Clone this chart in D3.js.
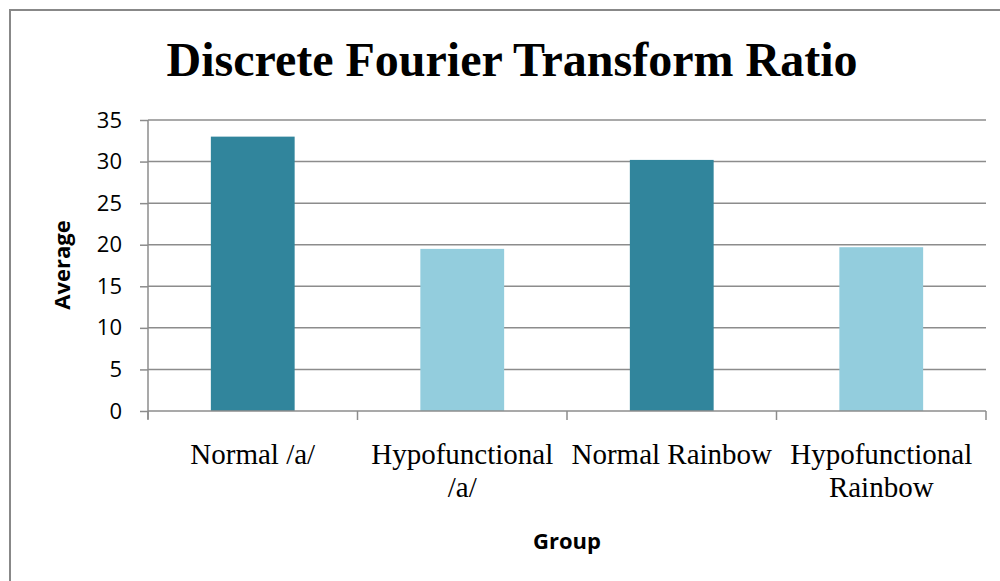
<!DOCTYPE html>
<html lang="en">
<head>
<meta charset="UTF-8">
<title>Discrete Fourier Transform Ratio</title>
<script src="https://cdnjs.cloudflare.com/ajax/libs/d3/7.8.5/d3.min.js"></script>
<style>
  body { margin: 0; background: #fff; }
</style>
</head>
<body>
<div id="chart"></div>
<script>
    var groups = ["Normal /a/", "Hypofunctional /a/", "Normal Rainbow", "Hypofunctional Rainbow"];
    var groupLines = [["Normal /a/"], ["Hypofunctional", "/a/"], ["Normal Rainbow"], ["Hypofunctional", "Rainbow"]];
    var averages = [33.0, 19.5, 30.2, 19.7];
    var barColors = ["#31859c", "#93cddd", "#31859c", "#93cddd"];
    var yTicks = [0, 5, 10, 15, 20, 25, 30, 35];

    var width = 1000, height = 581;
    var plotLeft = 148, plotRight = 986, plotTop = 120, plotBottom = 411;

    var svg = d3.select("#chart").append("svg")
        .attr("width", width)
        .attr("height", height);

    svg.append("rect").attr("width", width).attr("height", height).attr("fill", "#fff");

    // outer frame of the chart
    svg.append("path")
        .attr("d", "M10," + (height + 2) + "V10H" + (width + 2))
        .attr("fill", "none")
        .attr("stroke", "#888")
        .attr("stroke-width", 2);

    var x = d3.scaleBand().domain(groups).range([plotLeft, plotRight]).paddingInner(0.6).paddingOuter(0.3);
    var xEdge = d3.scaleBand().domain(groups).range([plotLeft, plotRight]);
    var y = d3.scaleLinear().domain([0, 35]).range([plotBottom, plotTop]);

    // gridlines
    svg.append("g").selectAll("line")
        .data(yTicks.filter(function (d) { return d > 0; }))
        .enter().append("line")
        .attr("x1", plotLeft).attr("x2", plotRight)
        .attr("y1", function (d) { return y(d); })
        .attr("y2", function (d) { return y(d); })
        .attr("stroke", "#8c8c8c")
        .attr("stroke-width", 1.5);

    // bars
    svg.append("g").selectAll("rect")
        .data(averages)
        .enter().append("rect")
        .attr("x", function (d, i) { return x(groups[i]); })
        .attr("width", x.bandwidth())
        .attr("y", function (d) { return y(d); })
        .attr("height", function (d) { return plotBottom - y(d); })
        .attr("fill", function (d, i) { return barColors[i]; });

    // y axis
    var yAxis = svg.append("g")
        .attr("transform", "translate(" + plotLeft + ",0)")
        .call(d3.axisLeft(y).tickValues(yTicks).tickSize(8).tickPadding(18));
    yAxis.select(".domain").attr("stroke", "#8c8c8c").attr("stroke-width", 1.5)
        .attr("d", "M0," + plotTop + "V" + (plotBottom + 8));
    yAxis.selectAll(".tick line").attr("stroke", "#8c8c8c").attr("stroke-width", 1.5);
    yAxis.selectAll(".tick text")
        .attr("font-family", "'Open Sans', 'Liberation Sans', sans-serif")
        .attr("font-size", 22)
        .attr("fill", "#000");

    // x axis line and ticks at band edges
    svg.append("line")
        .attr("x1", plotLeft).attr("x2", plotRight)
        .attr("y1", plotBottom).attr("y2", plotBottom)
        .attr("stroke", "#8c8c8c").attr("stroke-width", 1.5);
    var edges = groups.map(function (g) { return xEdge(g); }).concat([plotRight]);
    svg.append("g").selectAll("line")
        .data(edges)
        .enter().append("line")
        .attr("x1", function (d) { return d; }).attr("x2", function (d) { return d; })
        .attr("y1", plotBottom).attr("y2", plotBottom + 9)
        .attr("stroke", "#8c8c8c").attr("stroke-width", 1.5);

    // category labels
    var catLabels = svg.append("g").selectAll("text")
        .data(groupLines)
        .enter().append("text")
        .attr("text-anchor", "middle")
        .attr("font-family", "'Liberation Serif', 'Times New Roman', serif")
        .attr("font-size", 29)
        .attr("fill", "#000")
        .attr("y", 464);
    catLabels.selectAll("tspan")
        .data(function (d, i) { return d.map(function (t) { return { t: t, i: i }; }); })
        .enter().append("tspan")
        .attr("x", function (d) { return xEdge(groups[d.i]) + xEdge.bandwidth() / 2; })
        .attr("dy", function (d, j) { return j === 0 ? 0 : 33; })
        .text(function (d) { return d.t; });

    // title
    svg.append("text")
        .attr("x", 512).attr("y", 76)
        .attr("text-anchor", "middle")
        .attr("font-family", "'Liberation Serif', 'Times New Roman', serif")
        .attr("font-weight", "bold")
        .attr("font-size", 48)
        .attr("fill", "#000")
        .text("Discrete Fourier Transform Ratio");

    // axis titles
    svg.append("text")
        .attr("transform", "translate(70,265) rotate(-90)")
        .attr("text-anchor", "middle")
        .attr("font-family", "'Open Sans', 'Liberation Sans', sans-serif")
        .attr("font-weight", "bold")
        .attr("font-size", 22)
        .attr("fill", "#000")
        .text("Average");

    svg.append("text")
        .attr("x", 567).attr("y", 549)
        .attr("text-anchor", "middle")
        .attr("font-family", "'Open Sans', 'Liberation Sans', sans-serif")
        .attr("font-weight", "bold")
        .attr("font-size", 22)
        .attr("fill", "#000")
        .text("Group");
</script>
</body>
</html>
